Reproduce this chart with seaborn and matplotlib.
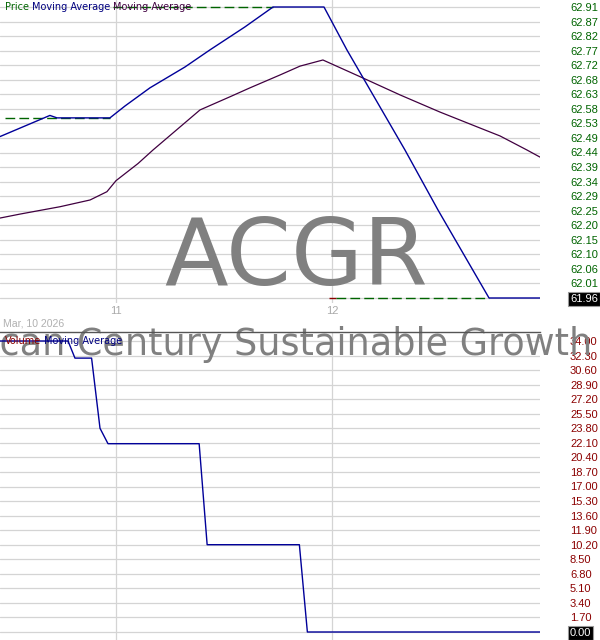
import numpy as np
import pandas as pd
import seaborn as sns
import matplotlib
matplotlib.use('Agg')
import matplotlib.pyplot as plt

#---------------------------------------------
# data (x = fractional trading day of March)
#---------------------------------------------
price_t = [10.463, 10.694, 10.727, 10.972, 11.042, 11.157, 11.319, 11.435,
           11.597, 11.727, 11.963, 12.069, 12.222, 12.338, 12.491, 12.625,
           12.727, 12.963]
price_v = [62.487, 62.556, 62.548, 62.548, 62.587, 62.646, 62.714, 62.770,
           62.845, 62.910, 62.910, 62.770, 62.584, 62.443, 62.247, 62.084,
           61.960, 61.960]

ma_t = [10.463, 10.556, 10.741, 10.880, 10.958, 11.000, 11.102, 11.171,
        11.389, 11.528, 11.620, 11.759, 11.852, 11.958, 12.144, 12.315,
        12.500, 12.685, 12.778, 12.903, 12.963]
ma_v = [62.221, 62.234, 62.258, 62.280, 62.307, 62.343, 62.399, 62.443,
        62.574, 62.617, 62.646, 62.688, 62.717, 62.737, 62.678, 62.623,
        62.567, 62.515, 62.489, 62.443, 62.420]

vol_t = [10.463, 10.778, 10.810, 10.887, 10.926, 10.963, 11.385, 11.422,
         11.849, 11.886, 12.963]
vol_v = [34.0, 34.0, 32.0, 32.0, 23.8, 22.0, 22.0, 10.2, 10.2, 0.0, 0.0]

# dashed reference levels: (value, start, end, colour)
levels = [(62.548, 10.486, 10.972, '#006400'),
          (62.910, 10.986, 11.727, '#006400'),
          (61.960, 11.986, 12.019, '#8b0000'),
          (61.960, 12.019, 12.727, '#006400')]

price_labels = ['61.96', '62.01', '62.06', '62.10', '62.15', '62.20', '62.25',
                '62.29', '62.34', '62.39', '62.44', '62.49', '62.53', '62.58',
                '62.63', '62.68', '62.72', '62.77', '62.82', '62.87', '62.91']
vol_labels = ['0.00', '1.70', '3.40', '5.10', '6.80', '8.50', '10.20', '11.90',
              '13.60', '15.30', '17.00', '18.70', '20.40', '22.10', '23.80',
              '25.50', '27.20', '28.90', '30.60', '32.30', '34.00']
day_ticks = [11, 12]
day_labels = ['11', '12']

#---------------------------------------------
# style
#---------------------------------------------
sns.set_style('white')
plt.rcParams['font.family'] = ['Liberation Sans', 'DejaVu Sans']

W, H = 600, 640
fig = plt.figure(figsize=(W / 100, H / 100), dpi=100)
ax1 = fig.add_axes([0, 337 / H, 540 / W, 303 / H])
ax2 = fig.add_axes([0, 0, 540 / W, 308 / H])

grid_c = '#d4d4d4'
xlo, xhi = 10.463, 12.963

# price panel
lo, hi = float(price_labels[0]), float(price_labels[-1])
unit = (hi - lo) / 291
sns.lineplot(x=ma_t, y=ma_v, ax=ax1, color='#400040', lw=0.9, zorder=3)
sns.lineplot(x=price_t, y=price_v, ax=ax1, color='#000099', lw=1.0, zorder=4)
for val, a, b, c in levels:
    sns.lineplot(x=[a, b], y=[val, val], ax=ax1, color=c, lw=1.0,
                 dashes=False, zorder=3).lines[-1].set_dashes((7, 3))
ax1.set_ylim(lo - 5 * unit, hi + 7 * unit)
ax1.set_xlim(xlo, xhi)
ax1.set_yticks(np.linspace(lo, hi, len(price_labels)))
ax1.set_yticklabels(price_labels)
ax1.set_xticks(day_ticks)
ax1.set_xticklabels(day_labels)

# volume panel
vlo, vhi = float(vol_labels[0]), float(vol_labels[-1])
vunit = (vhi - vlo) / 291
sns.lineplot(x=vol_t, y=vol_v, ax=ax2, color='#000099', lw=1.0, zorder=4)
ax2.set_ylim(vlo - 8 * vunit, vhi + 9 * vunit)
ax2.set_xlim(xlo, xhi)
ax2.set_yticks(np.linspace(vlo, vhi, len(vol_labels)))
ax2.set_yticklabels(vol_labels)
ax2.set_xticks(day_ticks)
ax2.set_xticklabels([])

for ax, lc in [(ax1, '#006400'), (ax2, '#8b0000')]:
    ax.yaxis.tick_right()
    ax.tick_params(axis='y', length=0, pad=21.6, labelsize=8, labelcolor=lc)
    ax.tick_params(axis='x', length=0, pad=2.5, labelsize=8, labelcolor='#aaaaaa')
    ax.grid(True, color=grid_c, lw=0.9)
    ax.set_axisbelow(True)
    for s in ax.spines.values():
        s.set_visible(False)
    ax.set_xlabel('')
    ax.set_ylabel('')
    ax.patch.set_alpha(0)
    first = ax.get_yticklabels()[0]
    first.set_color('white')
    first.set_bbox(dict(boxstyle='square,pad=0.15', fc='black', ec='#999999', lw=0.8))

ax2.spines['top'].set_visible(True)
ax2.spines['top'].set_color('#555555')
ax2.spines['top'].set_linewidth(1.0)

# watermark
ax1.text(296.5 / W, 1 - 285 / H, 'ACGR', transform=fig.transFigure,
         family='DejaVu Sans', fontsize=67, color='#808080', ha='center',
         va='baseline', zorder=1)
ax2.text(281 / W, 1 - 355 / H, 'American Century Sustainable Growth ETF',
         transform=fig.transFigure, family='DejaVu Sans', fontsize=26.3,
         color='#808080', ha='center', va='baseline', zorder=1, clip_on=False)

fig.text(3 / W, 1 - 324 / H, 'Mar, 10 2026', fontsize=7.6, color='#b0b0b0',
         ha='left', va='center')

# coloured legends
r = fig.canvas.get_renderer()
def colour_legend(items, y_px):
    x = 5
    for txt, c in items:
        t = fig.text(x / W, 1 - y_px / H, txt, color=c, fontsize=7,
                     family='DejaVu Sans', ha='left', va='center')
        x += t.get_window_extent(r).width + 3

colour_legend([('Price', '#006400'), ('Moving Average', '#000080'),
               ('Moving Average', '#400040')], 7)
colour_legend([('Volume', '#8b0000'), ('Moving Average', '#000080')], 341)

fig.savefig('out.png', dpi=100, facecolor='white')
